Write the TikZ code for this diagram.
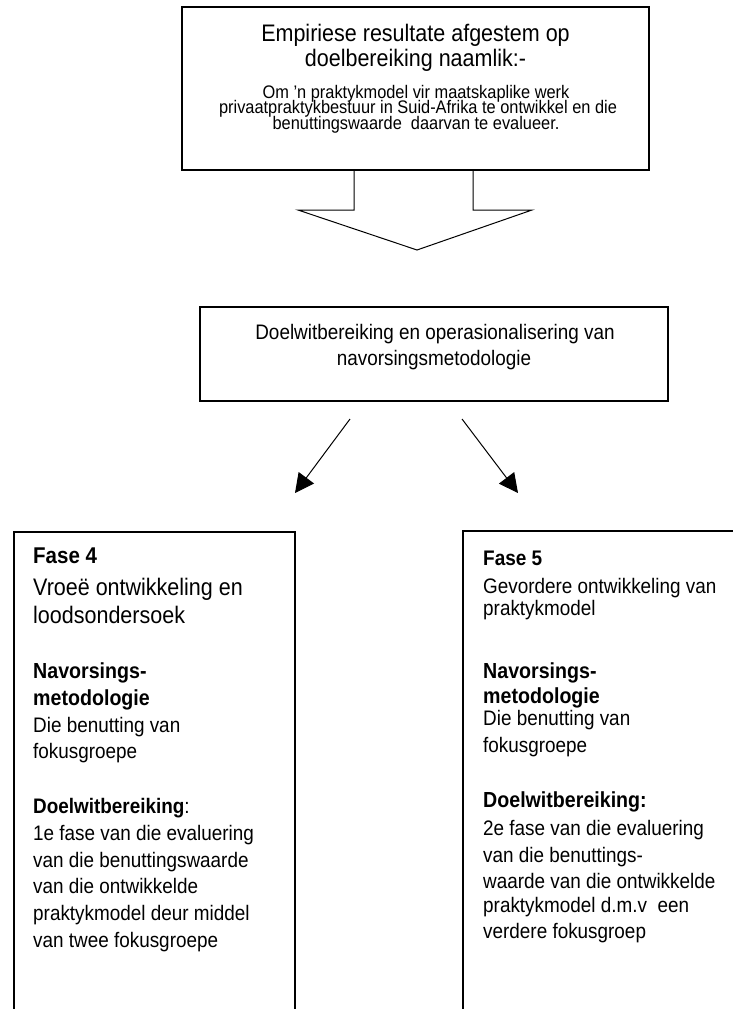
\documentclass[tikz,border=0pt]{standalone}
\usepackage{fontspec}
\setmainfont{Liberation Sans}[FakeStretch=0.9]
\usetikzlibrary{arrows.meta}
\begin{document}
\begin{tikzpicture}[x=1pt,y=-1pt,
  boxline/.style={draw=black,line width=1.8pt},
  openbox/.style={draw=black,line width=1.4pt},
  blockarrow/.style={draw=black,line width=1pt,fill=white,line join=miter},
  conn/.style={draw=black,line width=1pt,-{Triangle[length=19pt,width=19pt]}},
  ttl/.style={inner sep=0pt,anchor=base,font=\fontsize{23.9}{25}\selectfont},
  tsm/.style={inner sep=0pt,anchor=base,font=\fontsize{18.2}{15}\selectfont},
  mid/.style={inner sep=0pt,anchor=base,font=\fontsize{21}{25}\selectfont},
  txt/.style={inner sep=0pt,anchor=base west,font=\fontsize{21}{26}\selectfont},
  big/.style={inner sep=0pt,anchor=base west,font=\fontsize{23.9}{26}\selectfont},
  hd/.style={inner sep=0pt,anchor=base west,font=\bfseries\fontsize{21.8}{26}\selectfont}]
\useasboundingbox (0,0) rectangle (732,1009);

% top box and block arrow
\path[blockarrow] (354,170) -- (354,210) -- (298,210) -- (417,250) -- (532,210) -- (473,210) -- (473,170);
\node[boxline,minimum width=467pt,minimum height=163pt,inner sep=0pt] (top) at (415.5,88.5) {};
\node[ttl] (t1) at (415.5,41.7) {Empiriese resultate afgestem op};
\node[ttl] (t2) at (415.5,66.7) {doelbereiking naamlik:-};
\node[tsm] (t3) at (416,98.5) {Om ’n praktykmodel vir maatskaplike werk};
\node[tsm] (t4) at (418,113.5) {privaatpraktykbestuur in Suid-Afrika te ontwikkel en die};
\node[tsm] (t5) at (416,129) {benuttingswaarde\ \ daarvan te evalueer.};

% middle box
\node[boxline,minimum width=468pt,minimum height=94pt,inner sep=0pt] (midbox) at (434,354) {};
\node[mid] (m1) at (435,339.3) {Doelwitbereiking en operasionalisering van};
\node[mid] (m2) at (434,365) {navorsingsmetodologie};

% connectors
\coordinate (la) at (350,419);
\coordinate (lb) at (295,493);
\coordinate (ra) at (462,419);
\coordinate (rb) at (518,493);
\draw[conn] (la) -- (lb);
\draw[conn] (ra) -- (rb);

% bottom left box
\draw[openbox] (14,1012) -- (14,532) -- (295,532) -- (295,1012);
\node[hd,font=\bfseries\fontsize{22.8}{26}\selectfont] (l1) at (33,563) {Fase 4};
\node[big] (l2) at (33,595) {Vroeë ontwikkeling en};
\node[big] (l3) at (33,623) {loodsondersoek};
\node[hd] (l4) at (33,678.5) {Navorsings-};
\node[hd] (l5) at (33,705.5) {metodologie};
\node[txt] (l6) at (33,732) {Die benutting van};
\node[txt] (l7) at (33,758.5) {fokusgroepe};
\node[txt] (l8) at (33,813.5) {\textbf{Doelwitbereiking}:};
\node[txt] (l9) at (33,840.5) {1e fase van die evaluering};
\node[txt] (l10) at (33,867) {van die benuttingswaarde};
\node[txt] (l11) at (33,893.5) {van die ontwikkelde};
\node[txt] (l12) at (33,920.5) {praktykmodel deur middel};
\node[txt] (l13) at (33,947) {van twee fokusgroepe};

% bottom right box
\draw[openbox] (463,1012) -- (463,531) -- (740,531);
\node[hd,font=\bfseries\fontsize{21.1}{26}\selectfont] (r1) at (483,565) {Fase 5};
\node[txt] (r2) at (483,593) {Gevordere ontwikkeling van};
\node[txt] (r3) at (483,615) {praktykmodel};
\node[hd] (r4) at (483,678.5) {Navorsings-};
\node[hd] (r5) at (483,703.5) {metodologie};
\node[txt] (r6) at (483,725.5) {Die benutting van};
\node[txt] (r7) at (483,752.5) {fokusgroepe};
\node[hd] (r8) at (483,807.5) {Doelwitbereiking:};
\node[txt] (r9) at (483,835.5) {2e fase van die evaluering};
\node[txt] (r10) at (483,862.5) {van die benuttings-};
\node[txt] (r11) at (483,888.5) {waarde van die ontwikkelde};
\node[txt] (r12) at (483,912.5) {praktykmodel d.m.v\ \ een};
\node[txt] (r13) at (483,938.5) {verdere fokusgroep};
\end{tikzpicture}
\end{document}
